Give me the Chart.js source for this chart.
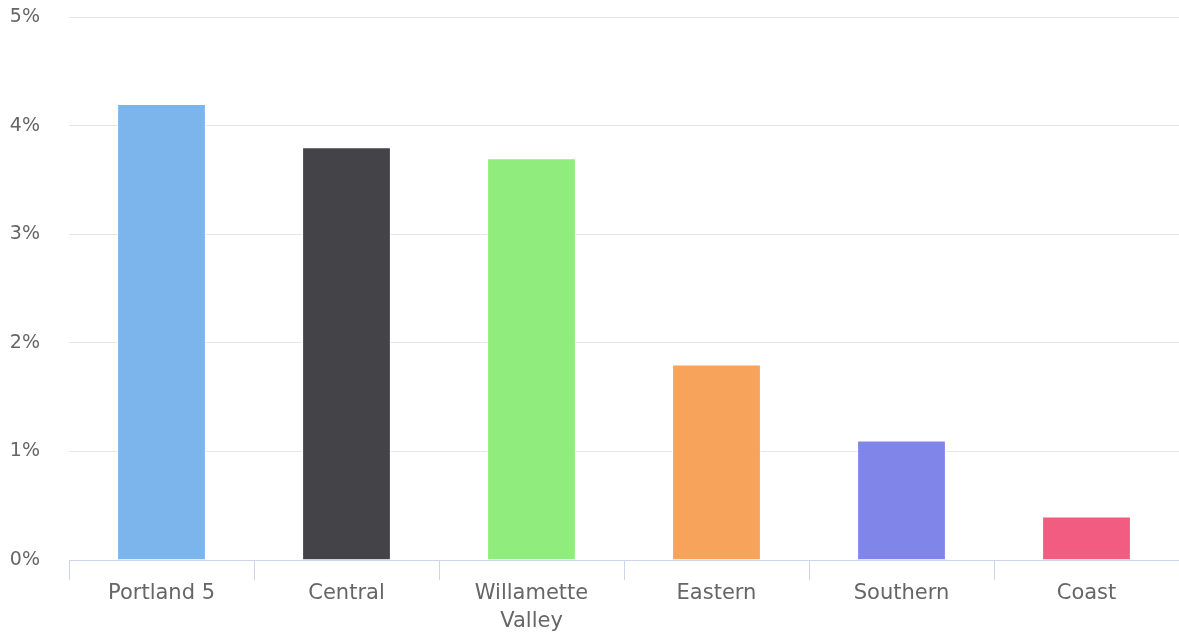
<!DOCTYPE html>
<html><head><meta charset="utf-8">
<script src="https://cdn.jsdelivr.net/npm/chart.js@4/dist/chart.umd.min.js"></script>
<style>html,body{margin:0;padding:0;background:#fff;}#wrap{width:1179px;height:633px;}</style>
</head><body><div id="wrap"><canvas id="c"></canvas></div>
<script>
const categories = ['Portland 5', 'Central', ['Willamette', 'Valley'], 'Eastern', 'Southern', 'Coast'];
const values = [4.2, 3.8, 3.7, 1.8, 1.1, 0.4];
const colors = ['#7cb5ec', '#434348', '#90ed7d', '#f7a35c', '#8085e9', '#f15c80'];
const yTicks = [0, 1, 2, 3, 4, 5];

Chart.defaults.font.family = '"DejaVu Sans", Verdana, sans-serif';
Chart.defaults.font.size = 19;
Chart.defaults.color = '#666666';

new Chart(document.getElementById('c'), {
  type: 'bar',
  data: {
    labels: categories,
    datasets: [{
      data: values,
      backgroundColor: colors,
      borderColor: '#ffffff',
      borderWidth: 1,
      barPercentage: 0.48,
      categoryPercentage: 1.0
    }]
  },
  options: {
    responsive: true,
    maintainAspectRatio: false,
    animation: false,
    layout: { padding: { top: 17, right: 0, left: 0, bottom: 0 } },
    plugins: { legend: { display: false }, tooltip: { enabled: false } },
    scales: {
      x: {
        afterFit: (ax) => { ax.height = 73; ax.paddingLeft = 0; ax.paddingRight = 0; },
        grid: { offset: true, drawOnChartArea: false, drawTicks: true, tickLength: 20, color: '#ccd6eb' },
        border: { color: '#ccd6eb', width: 1 },
        ticks: { padding: 0, maxRotation: 0, color: '#666666', font: { size: 21, lineHeight: 1.32 } }
      },
      y: {
        min: 0, max: 5,
        afterBuildTicks: (ax) => { ax.ticks = yTicks.map(v => ({ value: v })); },
        afterFit: (ax) => { ax.width = 69; ax.paddingTop = 0; ax.paddingBottom = 0; },
        grid: { color: '#e6e6e6', drawTicks: false },
        border: { display: false },
        ticks: { padding: 29, color: '#666666', font: { size: 19 }, callback: (v) => v + '%' }
      }
    }
  }
});
</script></body></html>
